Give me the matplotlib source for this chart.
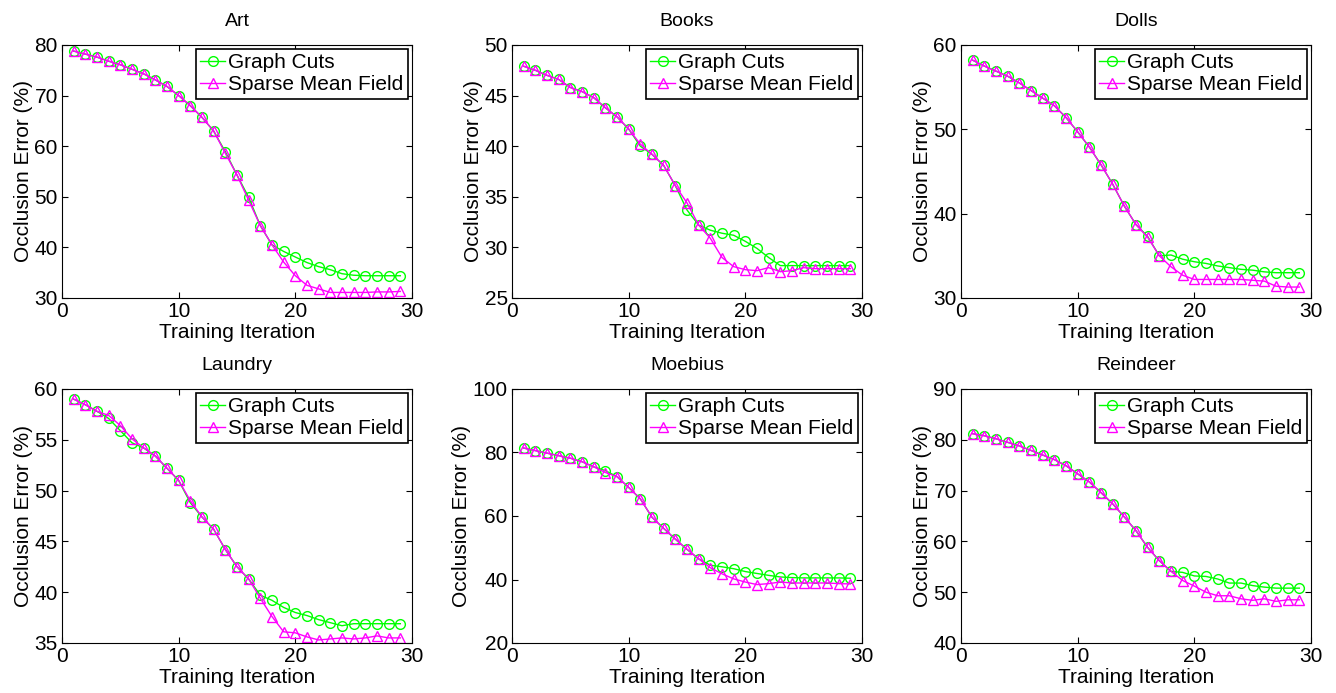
import matplotlib
matplotlib.use("Agg")
import matplotlib.pyplot as plt
import numpy as np

plt.rcParams['font.family'] = ['Liberation Sans', 'DejaVu Sans']

iters = list(range(1, 30))

titles = ["Art", "Books", "Dolls", "Laundry", "Moebius", "Reindeer"]

art_gc = [78.8, 78.2, 77.6, 76.8, 76.1, 75.2, 74.3, 73.1, 71.8, 70.0, 68.0, 65.7, 63.0, 58.9, 54.3,
          49.9, 44.3, 40.5, 39.2, 38.1, 37.0, 36.2, 35.6, 34.8, 34.5, 34.4, 34.4, 34.4, 34.4]
art_smf = [78.8, 78.2, 77.6, 76.8, 76.1, 75.2, 74.3, 73.1, 71.8, 70.0, 68.0, 65.7, 63.0, 58.6, 54.3,
           49.3, 44.3, 40.5, 37.1, 34.4, 32.5, 31.8, 31.1, 31.1, 31.1, 31.1, 31.2, 31.2, 31.3]

books_gc = [47.9, 47.5, 47.0, 46.6, 45.8, 45.4, 44.8, 43.8, 42.9, 41.7, 40.0, 39.2, 38.1, 36.1, 33.7,
            32.2, 31.7, 31.4, 31.2, 30.6, 29.9, 29.0, 28.2, 28.2, 28.2, 28.2, 28.2, 28.2, 28.2]
books_smf = [47.9, 47.5, 47.0, 46.6, 45.8, 45.4, 44.8, 43.8, 42.9, 41.7, 40.2, 39.2, 38.1, 36.1, 34.4,
             32.2, 30.9, 29.0, 28.1, 27.8, 27.7, 28.0, 27.6, 27.7, 28.0, 27.9, 27.9, 27.9, 27.9]

dolls_gc = [58.2, 57.5, 56.9, 56.3, 55.5, 54.6, 53.7, 52.8, 51.4, 49.7, 47.9, 45.8, 43.5, 40.9, 38.7,
            37.3, 35.0, 35.1, 34.6, 34.3, 34.1, 33.8, 33.6, 33.4, 33.3, 33.1, 33.0, 33.0, 33.0]
dolls_smf = [58.2, 57.5, 56.9, 56.3, 55.5, 54.6, 53.7, 52.8, 51.4, 49.7, 47.9, 45.8, 43.5, 40.9, 38.7,
             37.2, 35.0, 33.7, 32.7, 32.2, 32.2, 32.2, 32.2, 32.2, 32.1, 32.0, 31.4, 31.3, 31.3]

laundry_gc = [59.0, 58.45, 57.8, 57.1, 55.9, 54.7, 54.2, 53.4, 52.2, 51.0, 48.8, 47.4, 46.2, 44.2, 42.5,
              41.3, 39.7, 39.2, 38.5, 38.0, 37.7, 37.3, 37.0, 36.7, 36.9, 36.9, 36.9, 36.9, 36.9]
laundry_smf = [59.0, 58.45, 57.8, 57.4, 56.4, 55.1, 54.2, 53.4, 52.2, 51.0, 49.0, 47.4, 46.2, 44.2, 42.5,
               41.3, 39.4, 37.6, 36.1, 36.0, 35.6, 35.3, 35.4, 35.5, 35.4, 35.5, 35.7, 35.5, 35.5]

moebius_gc = [81.4, 80.6, 79.8, 79.0, 78.2, 77.1, 75.5, 74.3, 72.4, 69.0, 65.4, 59.6, 56.1, 52.7, 49.5,
              46.5, 44.5, 44.0, 43.4, 42.5, 41.9, 41.3, 40.8, 40.6, 40.5, 40.5, 40.5, 40.5, 40.4]
moebius_smf = [81.4, 80.6, 79.8, 79.0, 78.2, 77.1, 75.5, 73.7, 72.4, 69.0, 65.4, 59.6, 56.1, 52.7, 49.5,
               46.5, 43.7, 41.8, 40.2, 39.2, 38.4, 38.7, 39.2, 38.9, 38.9, 38.9, 38.9, 38.7, 38.6]

reindeer_gc = [81.2, 80.8, 80.2, 79.5, 78.8, 77.9, 77.0, 76.1, 74.9, 73.3, 71.7, 69.6, 67.4, 64.8, 62.1,
               58.8, 56.2, 54.1, 53.9, 53.2, 53.1, 52.6, 51.8, 51.8, 51.3, 51.0, 50.8, 50.8, 50.8]
reindeer_smf = [81.2, 80.8, 80.2, 79.5, 78.8, 77.9, 77.0, 76.1, 74.9, 73.3, 71.7, 69.6, 67.4, 64.8, 62.1,
                58.8, 56.2, 54.1, 52.3, 51.2, 50.0, 49.3, 49.3, 48.7, 48.4, 48.7, 48.2, 48.5, 48.5]

gc_series = [art_gc, books_gc, dolls_gc, laundry_gc, moebius_gc, reindeer_gc]
smf_series = [art_smf, books_smf, dolls_smf, laundry_smf, moebius_smf, reindeer_smf]

ylims = [(30, 80), (25, 50), (30, 60), (35, 60), (20, 100), (40, 90)]
yticks = [[30, 40, 50, 60, 70, 80], [25, 30, 35, 40, 45, 50], [30, 40, 50, 60],
          [35, 40, 45, 50, 55, 60], [20, 40, 60, 80, 100], [40, 50, 60, 70, 80, 90]]
xticks = [0, 10, 20, 30]

W, H = 1336, 693
fig = plt.figure(figsize=(W / 100, H / 100), dpi=100)

lefts = [62, 512, 961]
width = 350
rows = [(45, 298), (389, 643)]
fs = 15

for i in range(6):
    r, c = divmod(i, 3)
    top, bot = rows[r]
    ax = fig.add_axes([lefts[c] / W, 1 - bot / H, width / W, (bot - top) / H])
    ax.plot(iters, gc_series[i], color='#00ff00', marker='o', markersize=7,
            markerfacecolor='none', markeredgewidth=1.0, linewidth=1.0, label='Graph Cuts')
    ax.plot(iters, smf_series[i], color='#ff00ff', marker='^', markersize=7.5,
            markerfacecolor='none', markeredgewidth=1.0, linewidth=1.0, label='Sparse Mean Field')
    ax.set_xlim(0, 30)
    ax.set_ylim(*ylims[i])
    ax.set_xticks(xticks)
    ax.set_yticks(yticks[i])
    ax.tick_params(direction='in', top=True, right=True, labelsize=fs, length=4, width=0.8, pad=3)
    ax.set_title(titles[i], fontsize=fs - 1, pad=14)
    ax.set_xlabel('Training Iteration', fontsize=fs, labelpad=1)
    ax.set_ylabel('Occlusion Error (%)', fontsize=fs, labelpad=1)
    leg = ax.legend(loc='upper right', fontsize=fs, frameon=True, fancybox=False,
                    edgecolor='black', framealpha=1, borderpad=0.2, labelspacing=0.15,
                    handlelength=1.2, handletextpad=0.15, borderaxespad=0.2)
    leg.get_frame().set_linewidth(1.2)

fig.savefig('out.png', dpi=100)
